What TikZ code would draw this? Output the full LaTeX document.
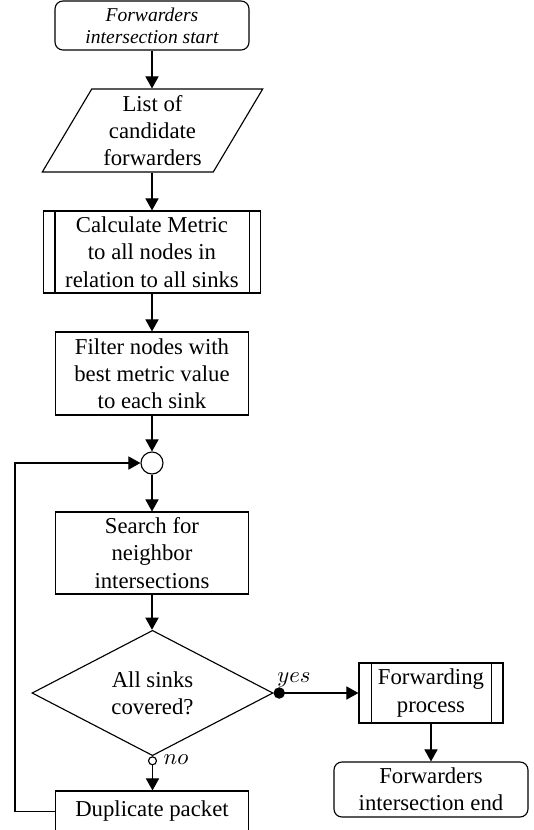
\documentclass[tikz,border=0pt]{standalone}
\usepackage{fontspec}
\setmainfont{Liberation Serif}
\usetikzlibrary{arrows.meta,calc,shapes.geometric}
\newcommand\pxu{0.44pt}
\begin{document}
\begin{tikzpicture}[x=0.44pt,y=-0.44pt,line width=0.5pt,
  flow/.style={-{Triangle[width=5.8pt,length=5.3pt]}},
  box/.style={draw,rectangle,align=center,inner sep=0pt},
  term/.style={box,rounded corners=3.5pt},
  lbl/.style={inner sep=0pt}]
\useasboundingbox (0,0) rectangle (534,830);
% nodes
\node[term,minimum width=194*\pxu,minimum height=49*\pxu,font=\fontsize{8.6}{9.8}\selectfont\itshape] (start) at (152,25.5) {Forwarders\\intersection start};
\node[draw,trapezium,trapezium left angle=60.5,trapezium right angle=119.5,trapezium stretches=true,
  minimum width=221*\pxu,minimum height=83*\pxu,inner sep=0pt,align=center] (list) at (152.5,130.5) {List of\\candidate\\forwarders};
\node[box,minimum width=217*\pxu,minimum height=82*\pxu] (calc) at (152,252) {Calculate Metric\\to all nodes in\\relation to all sinks};
\draw ($(calc.north west)+(12,0)$) -- ($(calc.south west)+(12,0)$);
\draw ($(calc.north east)+(-12,0)$) -- ($(calc.south east)+(-12,0)$);
\node[box,minimum width=193*\pxu,minimum height=83*\pxu] (filter) at (152,373.5) {Filter nodes with\\best metric value\\to each sink};
\node[draw,circle,minimum size=22*\pxu,inner sep=0pt] (junc) at (152,463) {};
\node[box,minimum width=193*\pxu,minimum height=82*\pxu] (search) at (152,553) {Search for\\neighbor\\intersections};
\node[draw,diamond,minimum width=241*\pxu,minimum height=118*\pxu,inner sep=0pt,align=center] (dec) at (152.5,693) {All sinks\\covered?};
\node[box,minimum width=144*\pxu,minimum height=60*\pxu] (fwd) at (431,693) {Forwarding\\process};
\draw ($(fwd.north west)+(13,0)$) -- ($(fwd.south west)+(13,0)$);
\draw ($(fwd.north east)+(-12,0)$) -- ($(fwd.south east)+(-12,0)$);
\node[term,minimum width=194*\pxu,minimum height=55*\pxu] (end) at (431,789.5) {Forwarders\\intersection end};
\node[box,minimum width=193*\pxu,minimum height=41*\pxu] (dup) at (152,811.5) {Duplicate packet};
\node[lbl] (yes) at (294,680) {$yes$};
\node[lbl] (no) at (176,760) {$no$};
\coordinate (loopc) at (15,463);
% connectors
\draw[flow] (start.south) -- (start.south |- list.north);
\draw[flow] (calc.north |- list.south) -- (calc.north);
\draw[flow] (calc.south) -- (filter.north);
\draw[flow] (filter.south) -- (junc.north);
\draw[flow] (junc.south) -- (search.north);
\draw[flow] (search.south) -- (search.south |- dec.north);
\draw[{Circle[length=5pt]}-{Triangle[width=5.8pt,length=5.3pt]}] (dec.east) -- (fwd.west);
\draw[{Circle[open,length=4pt]}-{Triangle[width=5.8pt,length=5.3pt]}] (dec.south) -- (dec.south |- dup.north);
\draw[flow] (fwd.south) -- (end.north);
\draw[flow] (dup.west) -| (loopc) -- (junc.west);
\end{tikzpicture}
\end{document}
